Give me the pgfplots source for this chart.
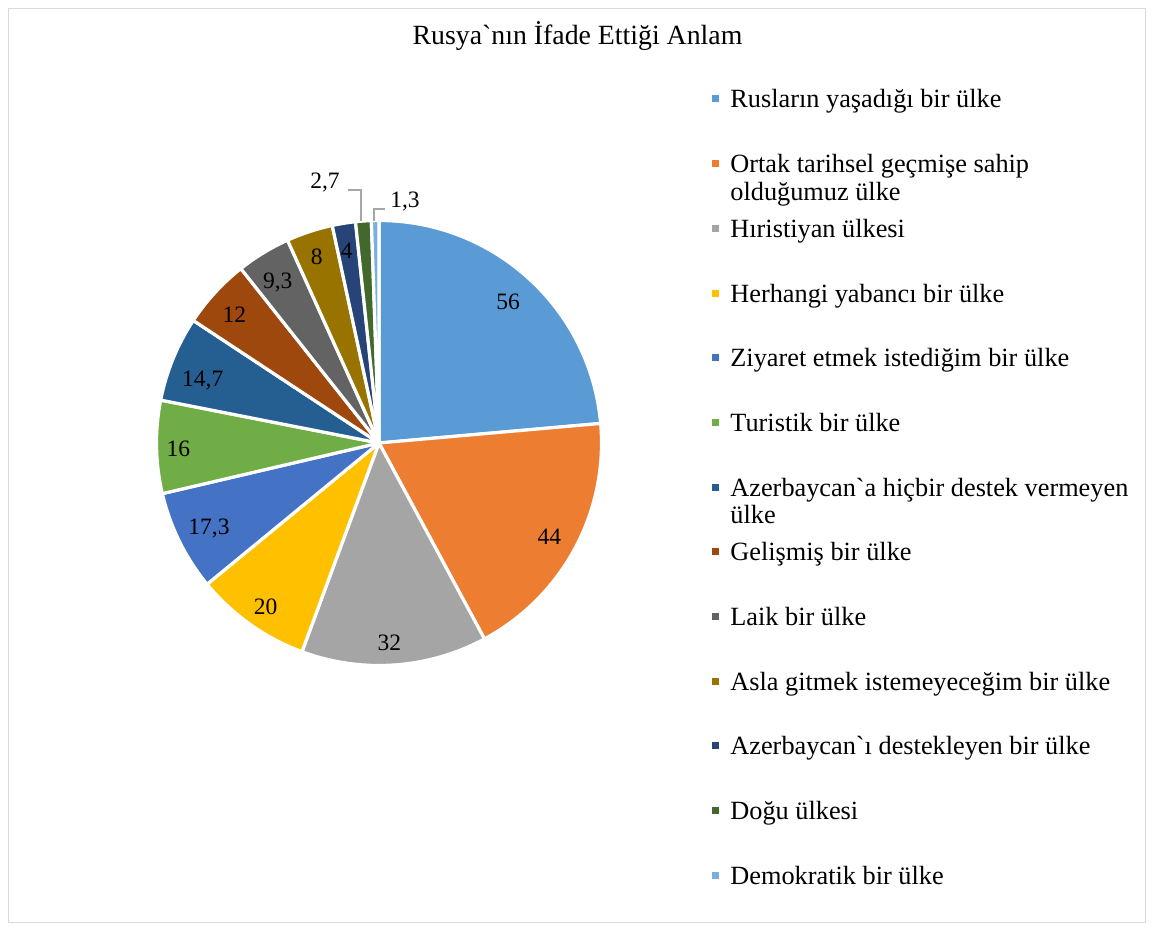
\documentclass[border=0pt]{standalone}
\usepackage{pgfplots}
\pgfplotsset{compat=1.18}
\usepackage{fontspec}
\setmainfont{Liberation Serif}
\newfontfamily\lf{Liberation Serif}
\definecolor{c1}{HTML}{5B9BD5}
\definecolor{c2}{HTML}{ED7D31}
\definecolor{c3}{HTML}{A5A5A5}
\definecolor{c4}{HTML}{FFC000}
\definecolor{c5}{HTML}{4472C4}
\definecolor{c6}{HTML}{70AD47}
\definecolor{c7}{HTML}{255E91}
\definecolor{c8}{HTML}{9E480E}
\definecolor{c9}{HTML}{636363}
\definecolor{c10}{HTML}{997300}
\definecolor{c11}{HTML}{264478}
\definecolor{c12}{HTML}{43682B}
\definecolor{c13}{HTML}{7CAFDD}
\definecolor{bordergray}{HTML}{D9D9D9}
\definecolor{leadergray}{HTML}{A6A6A6}
% values of the slices, clockwise from the top
\def\pievalues{56/c1,44/c2,32/c3,20/c4,17.3/c5,16/c6,14.7/c7,12/c8,9.3/c9,8/c10,4/c11,2.7/c12,1.3/c13}
\def\pietotal{237.3}
\newcommand\labfont{\lf\fontsize{11.75}{14}\selectfont}
\newcommand\legfont{\lf\fontsize{13.15}{13.75}\selectfont}
\begin{document}
\begin{tikzpicture}
\begin{axis}[x=0.5pt,y=0.5pt,xmin=0,xmax=1152,ymin=0,ymax=927,
  hide axis,clip=false,scale only axis]
\path (axis cs:0,0) rectangle (axis cs:1152,927);
\draw[bordergray,line width=0.85pt] (axis cs:8.5,918.5) rectangle (axis cs:1145.5,4.5);
% slices
\xdef\cum{0}
\foreach \v/\c in \pievalues {
  \pgfmathsetmacro\a{90-\cum/\pietotal*360}
  \pgfmathsetmacro\b{90-(\cum+\v)/\pietotal*360}
  \edef\temp{\noexpand\fill[\c,draw=white,line width=1.6pt,line join=round]
    (axis cs:379,484) -- ++(\a:111.25pt) arc[start angle=\a,end angle=\b,radius=111.25pt] -- cycle;}
  \temp
  \pgfmathsetmacro\newcum{\cum+\v}
  \xdef\cum{\newcum}
}
% data labels
\begin{scope}[every node/.style={font=\labfont,text height=0.68em,text depth=0pt,inner sep=0pt,anchor=center}]
\node at (axis cs:508,624.7) {56};
\node at (axis cs:549.3,389.3) {44};
\node at (axis cs:389.3,283.7) {32};
\node at (axis cs:265.7,319.3) {20};
\node at (axis cs:209,399.7) {17,3};
\node at (axis cs:178.3,477) {16};
\node at (axis cs:202.7,547) {14,7};
\node at (axis cs:234.3,611.3) {12};
\node at (axis cs:277.7,645.3) {9,3};
\node at (axis cs:316.7,669.3) {8};
\node at (axis cs:346.7,675.3) {4};
\node at (axis cs:325,745.3) {2,7};
\node at (axis cs:405,726) {1,3};
\end{scope}
\draw[leadergray,line width=1pt] (axis cs:347.7,737) -- (axis cs:360.7,737) -- (axis cs:360.7,706.3);
\draw[leadergray,line width=1pt] (axis cs:385,717.7) -- (axis cs:374,717.7) -- (axis cs:374,706.3);
% title
\node[anchor=base,inner sep=0pt,font=\lf\fontsize{13.9}{16}\selectfont] at (axis cs:577.5,882) {Rusya`nın İfade Ettiği Anlam};
% legend
\begin{scope}[every node/.style={font=\legfont,inner sep=0pt,anchor=base west}]
\fill[c1] (axis cs:712,824.5) rectangle (axis cs:719,831.5);
\node at (axis cs:730,819) {Rusların yaşadığı bir ülke};
\fill[c2] (axis cs:712,759.8) rectangle (axis cs:719,766.8);
\node at (axis cs:730,754.3) {\begin{tabular}[t]{@{}l@{}}Ortak tarihsel geçmişe sahip\\olduğumuz ülke\end{tabular}};
\fill[c3] (axis cs:712,695.1) rectangle (axis cs:719,702.1);
\node at (axis cs:730,689.6) {Hıristiyan ülkesi};
\fill[c4] (axis cs:712,630.4) rectangle (axis cs:719,637.4);
\node at (axis cs:730,624.9) {Herhangi yabancı bir ülke};
\fill[c5] (axis cs:712,565.7) rectangle (axis cs:719,572.7);
\node at (axis cs:730,560.2) {Ziyaret etmek istediğim bir ülke};
\fill[c6] (axis cs:712,501) rectangle (axis cs:719,508);
\node at (axis cs:730,495.5) {Turistik bir ülke};
\fill[c7] (axis cs:712,436.3) rectangle (axis cs:719,443.3);
\node at (axis cs:730,430.8) {\begin{tabular}[t]{@{}l@{}}Azerbaycan`a hiçbir destek vermeyen\\ülke\end{tabular}};
\fill[c8] (axis cs:712,371.6) rectangle (axis cs:719,378.6);
\node at (axis cs:730,366.1) {Gelişmiş bir ülke};
\fill[c9] (axis cs:712,306.9) rectangle (axis cs:719,313.9);
\node at (axis cs:730,301.4) {Laik bir ülke};
\fill[c10] (axis cs:712,242.2) rectangle (axis cs:719,249.2);
\node at (axis cs:730,236.7) {Asla gitmek istemeyeceğim bir ülke};
\fill[c11] (axis cs:712,177.5) rectangle (axis cs:719,184.5);
\node at (axis cs:730,172) {Azerbaycan`ı destekleyen bir ülke};
\fill[c12] (axis cs:712,112.8) rectangle (axis cs:719,119.8);
\node at (axis cs:730,107.3) {Doğu ülkesi};
\fill[c13] (axis cs:712,48.1) rectangle (axis cs:719,55.1);
\node at (axis cs:730,42.6) {Demokratik bir ülke};
\end{scope}
\end{axis}
\end{tikzpicture}
\end{document}
